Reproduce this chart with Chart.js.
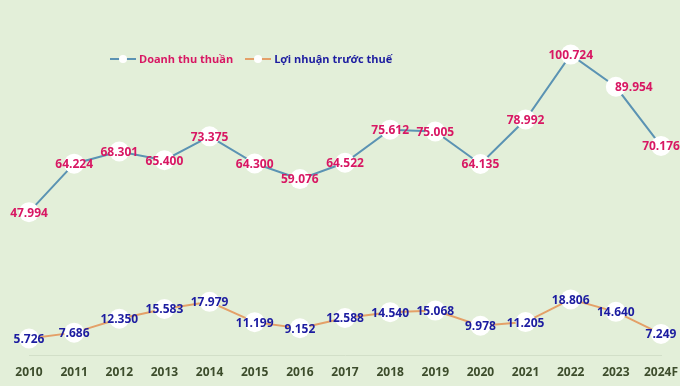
<!DOCTYPE html>
<html lang="vi">
<head>
  <meta charset="UTF-8">
  <title>Doanh thu thuần và lợi nhuận trước thuế</title>
  <script src="https://cdn.jsdelivr.net/npm/chart.js"></script>
  <style>
    html, body { margin: 0; padding: 0; background: #e3efd9; overflow: hidden; }
    body { font-family: 'Open Sans', sans-serif; }
    .wrap { position: relative; width: 680px; height: 386px; }
    .legend { position: absolute; top: 51px; left: 110px; display: flex; align-items: center; font-weight: 700; font-size: 11px; }
    .legend .item { display: flex; align-items: center; margin-right: 12px; }
    .legend .key { position: relative; width: 26px; height: 2px; margin-right: 3px; }
    .legend .key::after { content: ''; position: absolute; left: 9px; top: -3px; width: 8px; height: 8px; border-radius: 50%; background: #fff; }
  </style>
</head>
<body>
  <div class="wrap">
    <canvas id="chart" width="680" height="386"></canvas>
    <div class="legend">
      <div class="item"><span class="key" style="background:#5b93b3"></span><span style="color:#d81763">Doanh thu thuần</span></div>
      <div class="item"><span class="key" style="background:#e4a068"></span><span style="color:#1c1ca0">Lợi nhuận trước thuế</span></div>
    </div>
  </div>

  <script>
    const years = ['2010', '2011', '2012', '2013', '2014', '2015', '2016', '2017', '2018', '2019', '2020', '2021', '2022', '2023', '2024F'];
    const revenue = [47.994, 64.224, 68.301, 65.400, 73.375, 64.300, 59.076, 64.522, 75.612, 75.005, 64.135, 78.992, 100.724, 89.954, 70.176];
    const profit = [5.726, 7.686, 12.350, 15.583, 17.979, 11.199, 9.152, 12.588, 14.540, 15.068, 9.978, 11.205, 18.806, 14.640, 7.249];

    // value labels drawn on top of the white dots
    const pointLabels = {
      id: 'pointLabels',
      afterDatasetsDraw(chart) {
        const ctx = chart.ctx;
        ctx.save();
        ctx.font = "bold 12px 'Open Sans', sans-serif";
        ctx.textAlign = 'center';
        ctx.textBaseline = 'middle';
        chart.data.datasets.forEach((ds, i) => {
          const meta = chart.getDatasetMeta(i);
          ctx.fillStyle = ds.labelColor;
          meta.data.forEach((pt, j) => {
            let dx = 0;
            if (i === 0 && j === 13) dx = 18;
            ctx.fillText(ds.data[j].toFixed(3), pt.x + dx, pt.y + 1);
          });
        });
        ctx.restore();
      }
    };

    new Chart(document.getElementById('chart'), {
      type: 'line',
      data: {
        labels: years,
        datasets: [
          { label: 'Doanh thu thuần', data: revenue, borderColor: '#5b93b3', borderWidth: 2, labelColor: '#d81763',
            pointRadius: 10, pointBackgroundColor: '#ffffff', pointBorderWidth: 0, tension: 0 },
          { label: 'Lợi nhuận trước thuế', data: profit, borderColor: '#e4a068', borderWidth: 2, labelColor: '#1c1ca0',
            pointRadius: 10, pointBackgroundColor: '#ffffff', pointBorderWidth: 0, tension: 0 }
        ]
      },
      options: {
        responsive: false,
        animation: false,
        layout: { autoPadding: false, padding: { left: 29, right: 19, top: 0, bottom: -4 } },
        plugins: { legend: { display: false }, tooltip: { enabled: false } },
        scales: {
          x: {
            offset: false,
            afterFit: (s) => { s.paddingLeft = 0; s.paddingRight = 0; },
            grid: { display: false, drawTicks: false },
            border: { display: true, color: '#d2dfc8', width: 1 },
            ticks: { padding: 10, color: '#3d4d2c', font: { family: "'Open Sans', sans-serif", size: 12, weight: 'bold' } }
          },
          y: { display: false, min: 0, max: 119 }
        }
      },
      plugins: [pointLabels]
    });
  </script>
</body>
</html>
